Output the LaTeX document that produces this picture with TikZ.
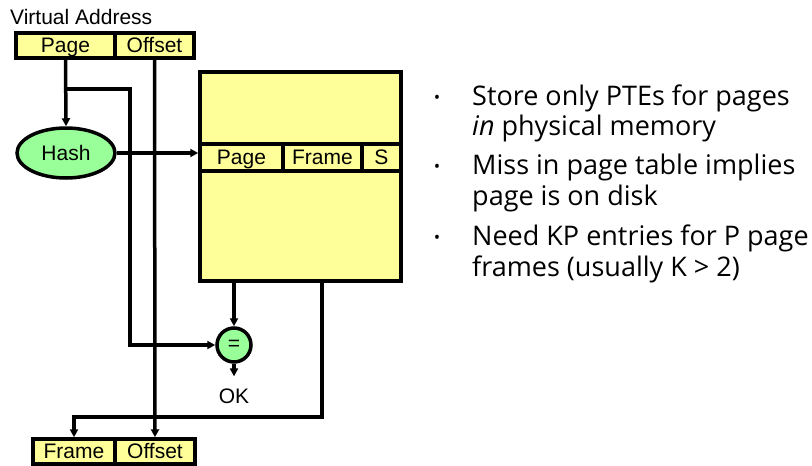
\documentclass[tikz,border=0pt]{standalone}
\usepackage{fontspec}
\setmainfont{Liberation Sans}
\newfontfamily\bulfont{Open Sans}
\usetikzlibrary{arrows.meta,shapes.geometric}
\definecolor{padyellow}{HTML}{FFFF99}
\definecolor{padgreen}{HTML}{99FF99}
\begin{document}
\begin{tikzpicture}[x=1pt,y=-1pt,
  lw/.style={line width=3.5pt},
  lab/.style={font=\fontsize{21}{23}\selectfont},
  cell/.style={draw, lw, fill=padyellow, inner sep=0pt, minimum height=25pt, text height=16.5pt, text depth=2.5pt, lab},
  conn/.style={lw, -{Triangle[length=8pt,width=8pt]}},
  bul/.style={font=\bulfont\fontsize{27}{30}\selectfont, anchor=base west, inner sep=0pt},
  dot/.style={font=\bulfont\fontsize{17}{18}\selectfont, anchor=base, inner sep=0pt}]
\useasboundingbox (0,0) rectangle (812,466);
% virtual address
\node[lab, anchor=base west, inner sep=0pt] (va) at (10,24) {Virtual Address};
\node[cell, minimum width=99pt] (vpage) at (65.5,45.5) {Page};
\node[cell, minimum width=79pt] (voff) at (154.5,45.5) {Offset};
% page table
\node[draw, lw, fill=padyellow, minimum width=201pt, minimum height=209pt, inner sep=0pt] (tbl) at (300.5,176.5) {};
\node[cell, minimum width=83pt, minimum height=27pt] (tpage) at (241.5,157.5) {Page};
\node[cell, minimum width=79pt, minimum height=27pt] (tframe) at (322.5,157.5) {Frame};
\node[cell, minimum width=39pt, minimum height=27pt] (ts) at (381.5,157.5) {S};
% hash
\node[ellipse, draw, lw, fill=padgreen, minimum width=98pt, minimum height=50pt, inner sep=0pt, lab] (hash) at (66,153) {Hash};
% compare
\node[circle, draw, lw, fill=padgreen, minimum size=34pt, inner sep=0pt, lab] (eq) at (234,345) {=};
\node[lab, inner sep=0pt] (ok) at (234,396) {OK};
% physical address
\node[cell, minimum width=82pt] (pfr) at (74,451.5) {Frame};
\node[cell, minimum width=80pt] (poff) at (155,451.5) {Offset};
% connectors
\coordinate (b1) at (65.5,89);
\coordinate (b2) at (130,89);
\coordinate (r1) at (322,417);
\draw[conn] (vpage.south) -- (hash.north);
\draw[conn] (b1) -- (b2) |- (eq.west);
\draw[conn] (voff.south) -- (poff.north);
\draw[conn] (hash.east) -- (hash.east -| tbl.west);
\draw[conn] (tbl.south -| eq.north) -- (eq.north);
\draw[conn] (eq.south) -- ([yshift=12pt]ok.north);
\draw[conn] (tbl.south -| r1) -- (r1) -| (pfr.north);
% bullets
\node[dot] (d1) at (437,103) {•};
\node[dot] (d2) at (437,172) {•};
\node[dot] (d3) at (437,243) {•};
\node[bul] (l1) at (472,105) {Store only PTEs for pages};
\node[bul] (l2) at (472,135) {\textit{in} physical memory};
\node[bul] (l3) at (472,174) {Miss in page table implies};
\node[bul] (l4) at (472,205) {page is on disk};
\node[bul] (l5) at (472,245) {Need KP entries for P page};
\node[bul] (l6) at (472,276) {frames (usually K > 2)};
\end{tikzpicture}
\end{document}
